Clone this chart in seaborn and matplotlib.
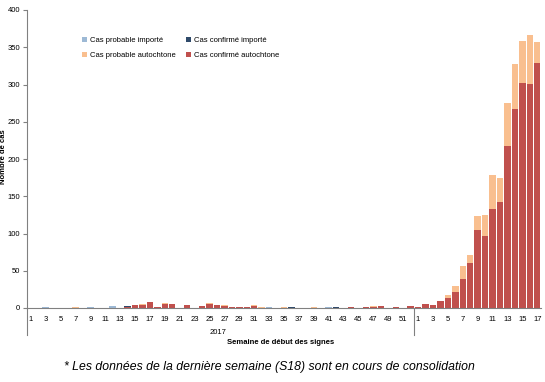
import numpy as np
import pandas as pd
import matplotlib
matplotlib.use("Agg")
import matplotlib.pyplot as plt
from matplotlib.patches import Patch
import seaborn as sns

# semaines 2017 (1-52) puis 2018 (1-17)
weeks_2017 = list(range(1, 53))
weeks_2018 = list(range(1, 18))

prob_imp_2017 = [0, 0, 1, 0, 0, 0, 0, 0, 1, 0, 0, 3, 0, 0, 0, 0, 0, 0, 0, 0,
                 0, 0, 0, 0, 0, 0, 0, 0, 0, 0, 0, 0, 1, 0, 0, 0, 0, 0, 0, 0,
                 1, 0, 0, 0, 0, 0, 0, 0, 0, 0, 0, 0]
conf_imp_2017 = [0, 0, 0, 0, 0, 0, 0, 0, 0, 0, 0, 0, 0, 2, 0, 0, 0, 0, 0, 0,
                 0, 0, 0, 0, 0, 0, 0, 0, 0, 0, 0, 0, 0, 0, 0, 2, 0, 0, 0, 0,
                 0, 1, 0, 0, 0, 0, 0, 0, 0, 0, 0, 0]
prob_auto_2017 = [0, 0, 0, 0, 0, 0, 1, 0, 0, 0, 0, 0, 0, 0, 0, 1, 0, 0, 2, 0,
                  0, 0, 0, 0, 1, 0, 1, 0, 0, 0, 1, 1, 0, 0, 1, 0, 0, 0, 1, 0,
                  0, 0, 0, 0, 0, 0, 2, 0, 0, 0, 0, 0]
conf_auto_2017 = [0, 0, 0, 0, 0, 0, 0, 0, 0, 0, 0, 0, 0, 1, 4, 4, 8, 2, 5, 5,
                  0, 4, 0, 3, 6, 4, 3, 2, 2, 1, 3, 0, 0, 0, 0, 0, 0, 0, 0, 0,
                  0, 0, 0, 2, 0, 1, 1, 3, 0, 2, 0, 3]

prob_imp_2018 = [0] * 17
conf_imp_2018 = [0] * 17
prob_auto_2018 = [0, 0, 0, 0, 3, 8, 17, 11, 18, 28, 45, 33, 57, 61, 56, 66, 28]
conf_auto_2018 = [2, 6, 4, 10, 14, 22, 39, 60, 105, 97, 133, 142, 218, 267, 302, 301, 329]

series_names = ["Cas probable importé", "Cas probable autochtone",
                "Cas confirmé importé", "Cas confirmé autochtone"]
colors = {"Cas probable importé": "#9db9d5",
          "Cas confirmé importé": "#2f4a6a",
          "Cas probable autochtone": "#f9bf8f",
          "Cas confirmé autochtone": "#c0504d"}

labels = [f"2017-{w:02d}" for w in weeks_2017] + [f"2018-{w:02d}" for w in weeks_2018]
df = pd.DataFrame({
    "semaine": labels,
    "conf_auto": conf_auto_2017 + conf_auto_2018,
    "prob_auto": prob_auto_2017 + prob_auto_2018,
    "conf_imp": conf_imp_2017 + conf_imp_2018,
    "prob_imp": prob_imp_2017 + prob_imp_2018,
})
# cumuls pour l'empilement (rouge en bas)
df["c1"] = df["conf_auto"]
df["c2"] = df["c1"] + df["prob_auto"]
df["c3"] = df["c2"] + df["conf_imp"]
df["c4"] = df["c3"] + df["prob_imp"]

plt.rcParams["font.family"] = ["Liberation Sans Narrow", "Liberation Sans", "DejaVu Sans"]

fig = plt.figure(figsize=(5.45, 3.82), dpi=100)
ax = fig.add_axes([27 / 545, 1 - 308 / 382, 514 / 545, 298 / 382])

layers = [("c4", "Cas probable importé"), ("c3", "Cas confirmé importé"),
          ("c2", "Cas probable autochtone"), ("c1", "Cas confirmé autochtone")]
for col, name in layers:
    sns.barplot(data=df, x="semaine", y=col, order=labels, color=colors[name],
                saturation=1, width=0.86, linewidth=0, ax=ax)

ax.set_xlim(-0.5, len(labels) - 0.5)
ax.set_ylim(0, 400)
ax.set_yticks(range(0, 401, 50))
ax.tick_params(axis="y", labelsize=5.5, length=3, color="#808080", pad=2)

week_nums = weeks_2017 + weeks_2018
tick_pos = [i for i, w in enumerate(week_nums) if w % 2 == 1]
ax.set_xticks(tick_pos)
ax.set_xticklabels([str(week_nums[i]) for i in tick_pos], fontsize=5.5)
ax.tick_params(axis="x", length=0, pad=6)
ax.set_xlabel("")
ax.set_ylabel("")

for s in ["top", "right"]:
    ax.spines[s].set_visible(False)
for s in ["left", "bottom"]:
    ax.spines[s].set_color("#808080")
    ax.spines[s].set_linewidth(0.8)

# lignes du découpage par année sous l'axe
trans = ax.get_xaxis_transform()
y_low = -27 / 298
ax.plot([-0.5, -0.5], [0, y_low], transform=trans, color="#808080", lw=0.8, clip_on=False)
ax.plot([51.5, 51.5], [0, y_low], transform=trans, color="#808080", lw=0.8, clip_on=False)

fig.text(218 / 545, 1 - 332 / 382, "2017", fontsize=5.5, ha="center", va="center")
fig.text(281 / 545, 1 - 342 / 382, "Semaine de début des signes", fontsize=5.5,
         fontweight="bold", ha="center", va="center")
fig.text(4 / 545, 1 - 157 / 382, "Nombre de cas", fontsize=5.5, fontweight="bold",
         rotation=90, ha="center", va="center")
fig.text(269 / 545, 1 - 367 / 382,
         "* Les données de la dernière semaine (S18) sont en cours de consolidation",
         fontsize=8.8, style="italic", family=["Liberation Sans", "DejaVu Sans"],
         ha="center", va="center")

handles = [Patch(facecolor=colors[n], edgecolor="none") for n in series_names]
ax.legend(handles, series_names, ncol=2, frameon=False, fontsize=5.5,
          handlelength=0.7, handleheight=0.7, handletextpad=0.3,
          columnspacing=1.4, labelspacing=1.0,
          loc="upper left", bbox_to_anchor=(48 / 514, 1 - 20 / 298))

fig.savefig("out.png", dpi=100)
